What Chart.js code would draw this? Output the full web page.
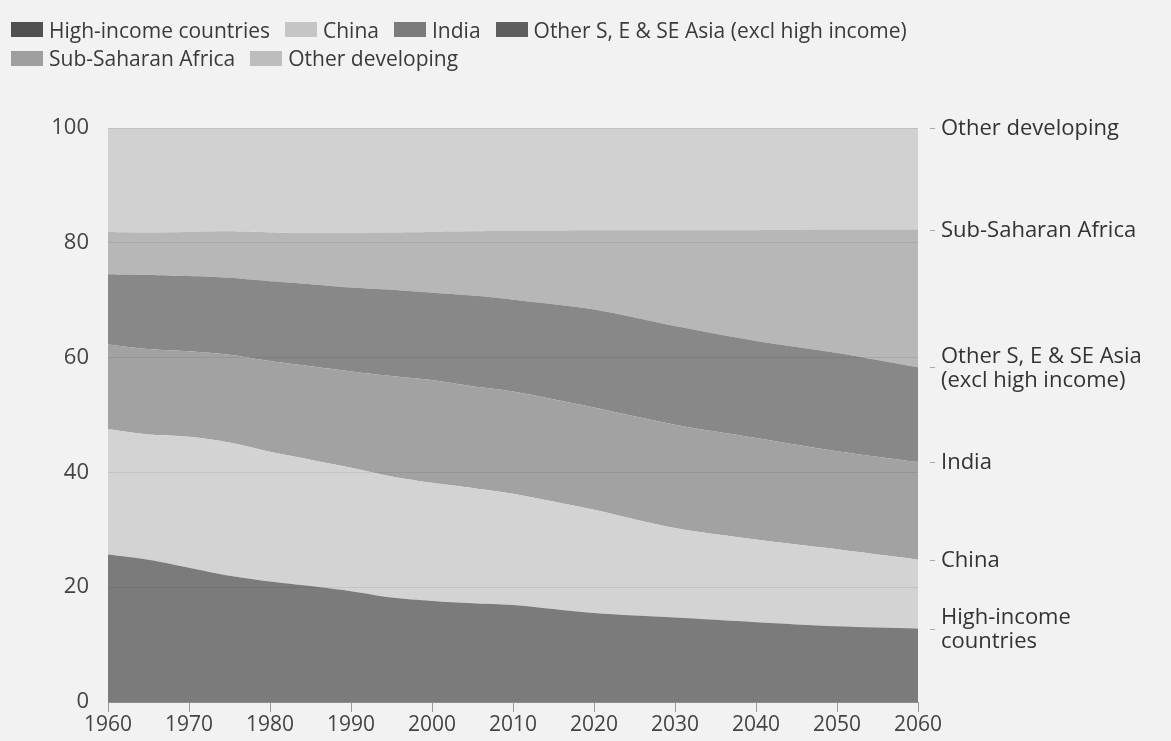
<!DOCTYPE html>
<html>
<head>
<meta charset="utf-8">
<script src="https://cdn.jsdelivr.net/npm/chart.js@4"></script>
<style>
  html, body { margin: 0; padding: 0; background: #f2f2f2; }
  #wrap { position: relative; width: 1171px; height: 741px; }
  #legend { position: absolute; left: 11px; top: 15px; width: 960px; font-family: "Open Sans", sans-serif; font-size: 21px; color: #3a3a3a; line-height: 28px; }
  #legend span.item { display: inline-flex; align-items: center; margin-right: 15px; white-space: nowrap; }
  #legend span.box { display: inline-block; width: 32px; height: 15px; margin-right: 6px; }
  canvas { position: absolute; left: 0; top: 0; }
</style>
</head>
<body>
<div id="wrap">
  <canvas id="popChart" width="1171" height="741"></canvas>
  <div id="legend"></div>
</div>
<script>
var years = [1960, 1965, 1970, 1975, 1980, 1985, 1990, 1995, 2000, 2005, 2010, 2020, 2030, 2040, 2050, 2060];

// share of world population, %
var highIncome  = [25.7, 24.8, 23.4, 22.0, 21.0, 20.2, 19.3, 18.2, 17.6, 17.2, 16.9, 15.5, 14.7, 13.9, 13.2, 12.8];
var china       = [21.8, 21.8, 22.8, 23.2, 22.6, 22.0, 21.5, 21.1, 20.6, 20.1, 19.4, 18.0, 15.6, 14.4, 13.4, 12.0];
var india       = [14.8, 14.9, 14.9, 15.3, 15.8, 16.3, 16.8, 17.5, 17.9, 17.7, 17.8, 17.8, 18.0, 17.7, 17.1, 17.0];
var otherAsia   = [12.2, 12.9, 13.1, 13.4, 13.9, 14.3, 14.6, 15.0, 15.2, 15.8, 16.0, 17.1, 17.2, 16.9, 17.1, 16.5];
var subSaharan  = [7.4, 7.4, 7.7, 8.1, 8.5, 8.9, 9.5, 10.0, 10.6, 11.2, 12.0, 13.8, 16.7, 19.3, 21.5, 24.0];
var otherDev    = [18.1, 18.2, 18.1, 18.0, 18.2, 18.3, 18.3, 18.2, 18.1, 18.0, 17.9, 17.8, 17.8, 17.8, 17.7, 17.7];

var seriesNames = ['High-income countries', 'China', 'India', 'Other S, E & SE Asia (excl high income)', 'Sub-Saharan Africa', 'Other developing'];
var endLabels = [['High-income', 'countries'], ['China'], ['India'], ['Other S, E & SE Asia', '(excl high income)'], ['Sub-Saharan Africa'], ['Other developing']];
var seriesValues = [highIncome, china, india, otherAsia, subSaharan, otherDev];
var yTicks = [0, 20, 40, 60, 80, 100];

var areaColours   = ['#7b7b7b', '#d3d3d3', '#a2a2a2', '#888888', '#b7b7b7', '#d1d1d1'];
var legendColours = ['#505050', '#c5c5c5', '#7b7b7b', '#5e5e5e', '#9f9f9f', '#bdbdbd'];

var datasets = seriesValues.map(function (vals, i) {
    return {
        label: seriesNames[i],
        data: vals.map(function (v, j) { return { x: years[j], y: v }; }),
        backgroundColor: areaColours[i],
        borderWidth: 0,
        pointRadius: 0,
        tension: 0.3,
        fill: i === 0 ? 'origin' : '-1'
    };
});

// labels on the right, lined up with the top of each band in the last year
var endLabelPlugin = {
    id: 'endLabels',
    afterDraw: function (chart) {
        var ctx = chart.ctx;
        var y = chart.scales.y;
        var last = years.length - 1;
        var cum = 0;
        ctx.save();
        ctx.font = '500 22px "Open Sans", sans-serif';
        ctx.fillStyle = '#333';
        ctx.textBaseline = 'middle';
        ctx.textAlign = 'left';
        seriesValues.forEach(function (vals, i) {
            cum += vals[last];
            var py = y.getPixelForValue(cum);
            ctx.strokeStyle = '#aaa';
            ctx.lineWidth = 1;
            ctx.beginPath();
            ctx.moveTo(930, Math.round(py) + 0.5);
            ctx.lineTo(935, Math.round(py) + 0.5);
            ctx.stroke();
            var lines = endLabels[i];
            var top = py + 1 - (lines.length - 1) * 24 / 2;
            lines.forEach(function (t, k) {
                ctx.fillText(t, 941, top + k * 24);
            });
        });
        ctx.restore();
    }
};

var ctx = document.getElementById('popChart').getContext('2d');
var popChart = new Chart(ctx, {
    type: 'line',
    data: { datasets: datasets },
    plugins: [endLabelPlugin],
    options: {
        responsive: false,
        animation: false,
        layout: { padding: { top: 128, right: 253, left: 0, bottom: 0 } },
        plugins: {
            legend: { display: false },
            tooltip: { enabled: false }
        },
        scales: {
            x: {
                type: 'linear',
                min: 1960,
                max: 2060,
                afterFit: function (s) { s.height = 39; },
                ticks: {
                    stepSize: 10,
                    padding: 0,
                    color: '#444',
                    font: { family: 'Open Sans', size: 21 },
                    callback: function (v) { return String(v); }
                },
                grid: { drawOnChartArea: false, drawTicks: true, tickLength: 10, color: '#999', z: 1 },
                border: { color: '#999', z: 1 }
            },
            y: {
                stacked: true,
                min: 0,
                max: 100,
                afterFit: function (s) { s.width = 108; },
                afterBuildTicks: function (s) { s.ticks = yTicks.map(function (v) { return { value: v }; }); },
                ticks: {
                    padding: 19,
                    color: '#444',
                    font: { family: 'Open Sans', size: 22 }
                },
                // grid sits on top of the filled areas
                grid: { drawTicks: false, color: 'rgba(0,0,0,0.08)', z: 1 },
                border: { display: false }
            }
        }
    }
});

// legend built from the chart's own datasets
var legendEl = document.getElementById('legend');
popChart.data.datasets.forEach(function (ds, i) {
    var item = document.createElement('span');
    item.className = 'item';
    var box = document.createElement('span');
    box.className = 'box';
    box.style.background = legendColours[i];
    item.appendChild(box);
    item.appendChild(document.createTextNode(ds.label));
    legendEl.appendChild(item);
});
</script>
</body>
</html>
